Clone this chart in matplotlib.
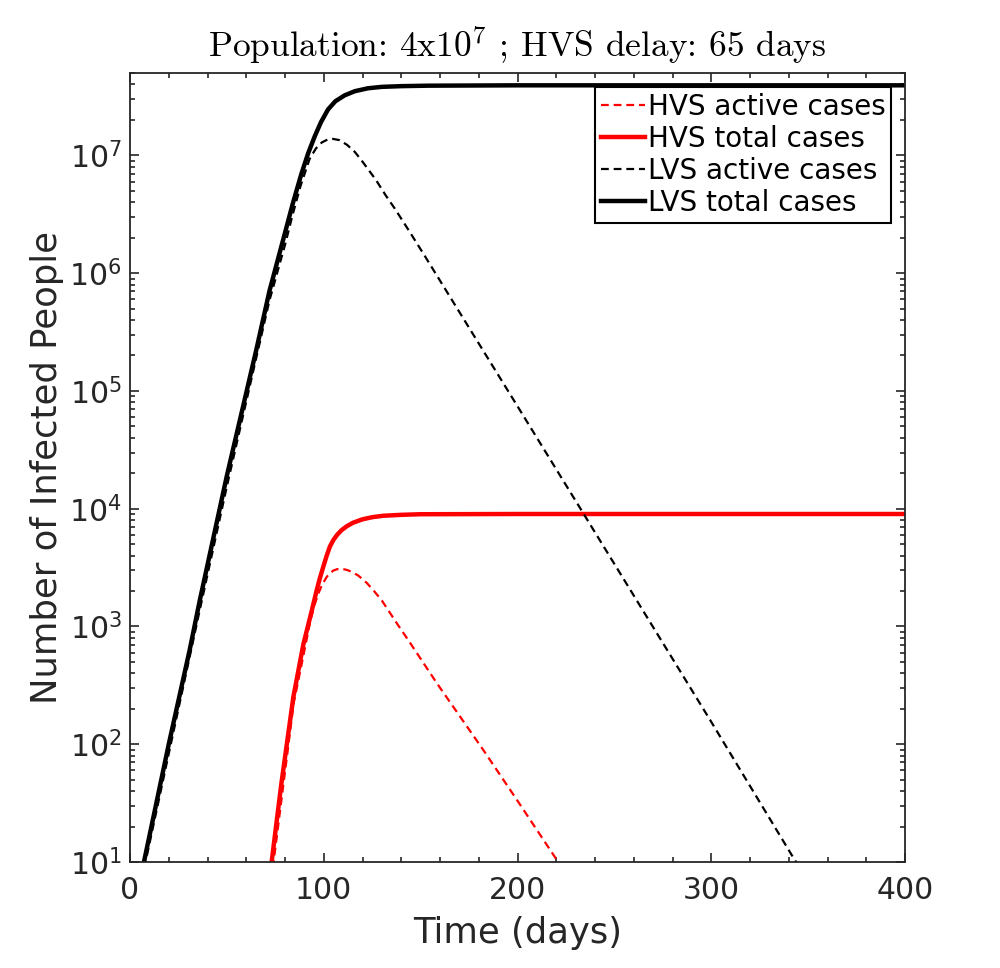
import matplotlib
matplotlib.use("Agg")
import matplotlib.pyplot as plt
from matplotlib.ticker import MultipleLocator, LogLocator, NullFormatter
import numpy as np

# values (day, log10 of people)
lvs_total_day = [6.5, 7.2, 20, 30.8, 36, 50, 65.2, 72, 79.8, 84, 88.4, 92, 95.3, 98.5, 102.2, 106,
                 110.8, 116, 122.8, 130, 140, 153.8, 200, 300, 400]
lvs_total_log = [0.95, 1.0, 2.0, 2.80, 3.22, 4.28, 5.35, 5.85, 6.33, 6.59, 6.84, 7.02, 7.16, 7.28, 7.39, 7.46,
                 7.51, 7.545, 7.57, 7.582, 7.588, 7.592, 7.595, 7.595, 7.595]

lvs_active_day = [7.3, 8.0, 20, 36, 50, 65, 72, 80, 84, 88, 92.7, 96, 99, 102, 104.8, 108, 112, 116,
                  119.4, 123, 127, 132, 136.6, 144, 152, 200, 234, 300, 341.5, 345]
lvs_active_log = [0.95, 1.0, 1.92, 3.14, 4.19, 5.27, 5.77, 6.24, 6.50, 6.74, 6.97, 7.06, 7.11, 7.135, 7.14, 7.13, 7.09, 7.03,
                  6.96, 6.88, 6.79, 6.66, 6.55, 6.36, 6.15, 4.87, 3.96, 2.19, 1.06, 0.97]

hvs_total_day = [72.7, 73.1, 78, 84.3, 89.5, 93, 96.4, 98, 100, 101.5, 103.2, 105, 107, 109, 111.8,
                 115, 120, 125, 130.7, 140, 150, 200, 400]
hvs_total_log = [0.95, 1.0, 1.65, 2.40, 2.85, 3.08, 3.31, 3.41, 3.52, 3.60, 3.68, 3.735, 3.78, 3.815, 3.85,
                 3.88, 3.91, 3.928, 3.94, 3.948, 3.953, 3.955, 3.955]

hvs_active_day = [73.7, 74.1, 84.5, 89.7, 93, 95, 97, 99, 101.5, 103, 105, 107, 109.2, 112, 115, 118,
                  122.2, 126, 130, 134, 137.6, 145, 158.3, 182.4, 200, 220.2, 222]
hvs_active_log = [0.95, 1.0, 2.35, 2.77, 3.04, 3.17, 3.27, 3.35, 3.42, 3.45, 3.475, 3.487, 3.49, 3.48, 3.46, 3.43,
                  3.37, 3.30, 3.22, 3.12, 3.03, 2.85, 2.52, 1.95, 1.52, 1.02, 0.97]

grey = (0.15, 0.15, 0.15)

fig = plt.figure(figsize=(10, 9.68), dpi=100)
ax = fig.add_axes([0.13, 0.1095, 0.775, 0.815])

dash = (3.5, 2.2)
ax.plot(hvs_active_day, 10 ** np.array(hvs_active_log), color='red', linestyle='--', dashes=dash,
        linewidth=1.6, label='HVS active cases')
ax.plot(hvs_total_day, 10 ** np.array(hvs_total_log), color='red', linestyle='-', linewidth=3.2,
        label='HVS total cases')
ax.plot(lvs_active_day, 10 ** np.array(lvs_active_log), color='black', linestyle='--', dashes=dash,
        linewidth=1.6, label='LVS active cases')
ax.plot(lvs_total_day, 10 ** np.array(lvs_total_log), color='black', linestyle='-', linewidth=3.2,
        label='LVS total cases')

ax.set_yscale('log')
ax.set_xlim(0, 400)
ax.set_ylim(10, 5e7)

ax.xaxis.set_major_locator(MultipleLocator(100))
ax.xaxis.set_minor_locator(MultipleLocator(20))
ax.yaxis.set_major_locator(LogLocator(base=10, numticks=20))
ax.yaxis.set_minor_locator(LogLocator(base=10, subs=np.arange(2, 10), numticks=20))
ax.yaxis.set_minor_formatter(NullFormatter())

ax.tick_params(which='both', direction='in', top=True, right=True, colors=grey, width=1.2)
ax.tick_params(which='major', length=6.5, labelsize=21.5)
ax.tick_params(axis='x', which='major', pad=10)
ax.tick_params(axis='y', which='major', pad=6)
ax.tick_params(which='minor', length=3.5)
for s in ax.spines.values():
    s.set_color(grey)
    s.set_linewidth(1.3)

ax.set_xlabel('Time (days)', fontsize=25.5, color=grey, labelpad=8)
ax.set_ylabel('Number of Infected People', fontsize=25.5, color=grey, labelpad=4)
ax.set_title(r'Population: 4x$10^7$ ; HVS delay: 65 days',
             fontsize=25.5, fontfamily='cmr10', math_fontfamily='cm', pad=12)

leg = ax.legend(loc='upper right', fontsize=20, handlelength=1.6, handletextpad=0.1,
                borderpad=0.2, labelspacing=0.15, borderaxespad=0.5,
                fancybox=False, framealpha=1, edgecolor='black')
leg.get_frame().set_linewidth(1.5)

fig.savefig('out.png', dpi=100)
